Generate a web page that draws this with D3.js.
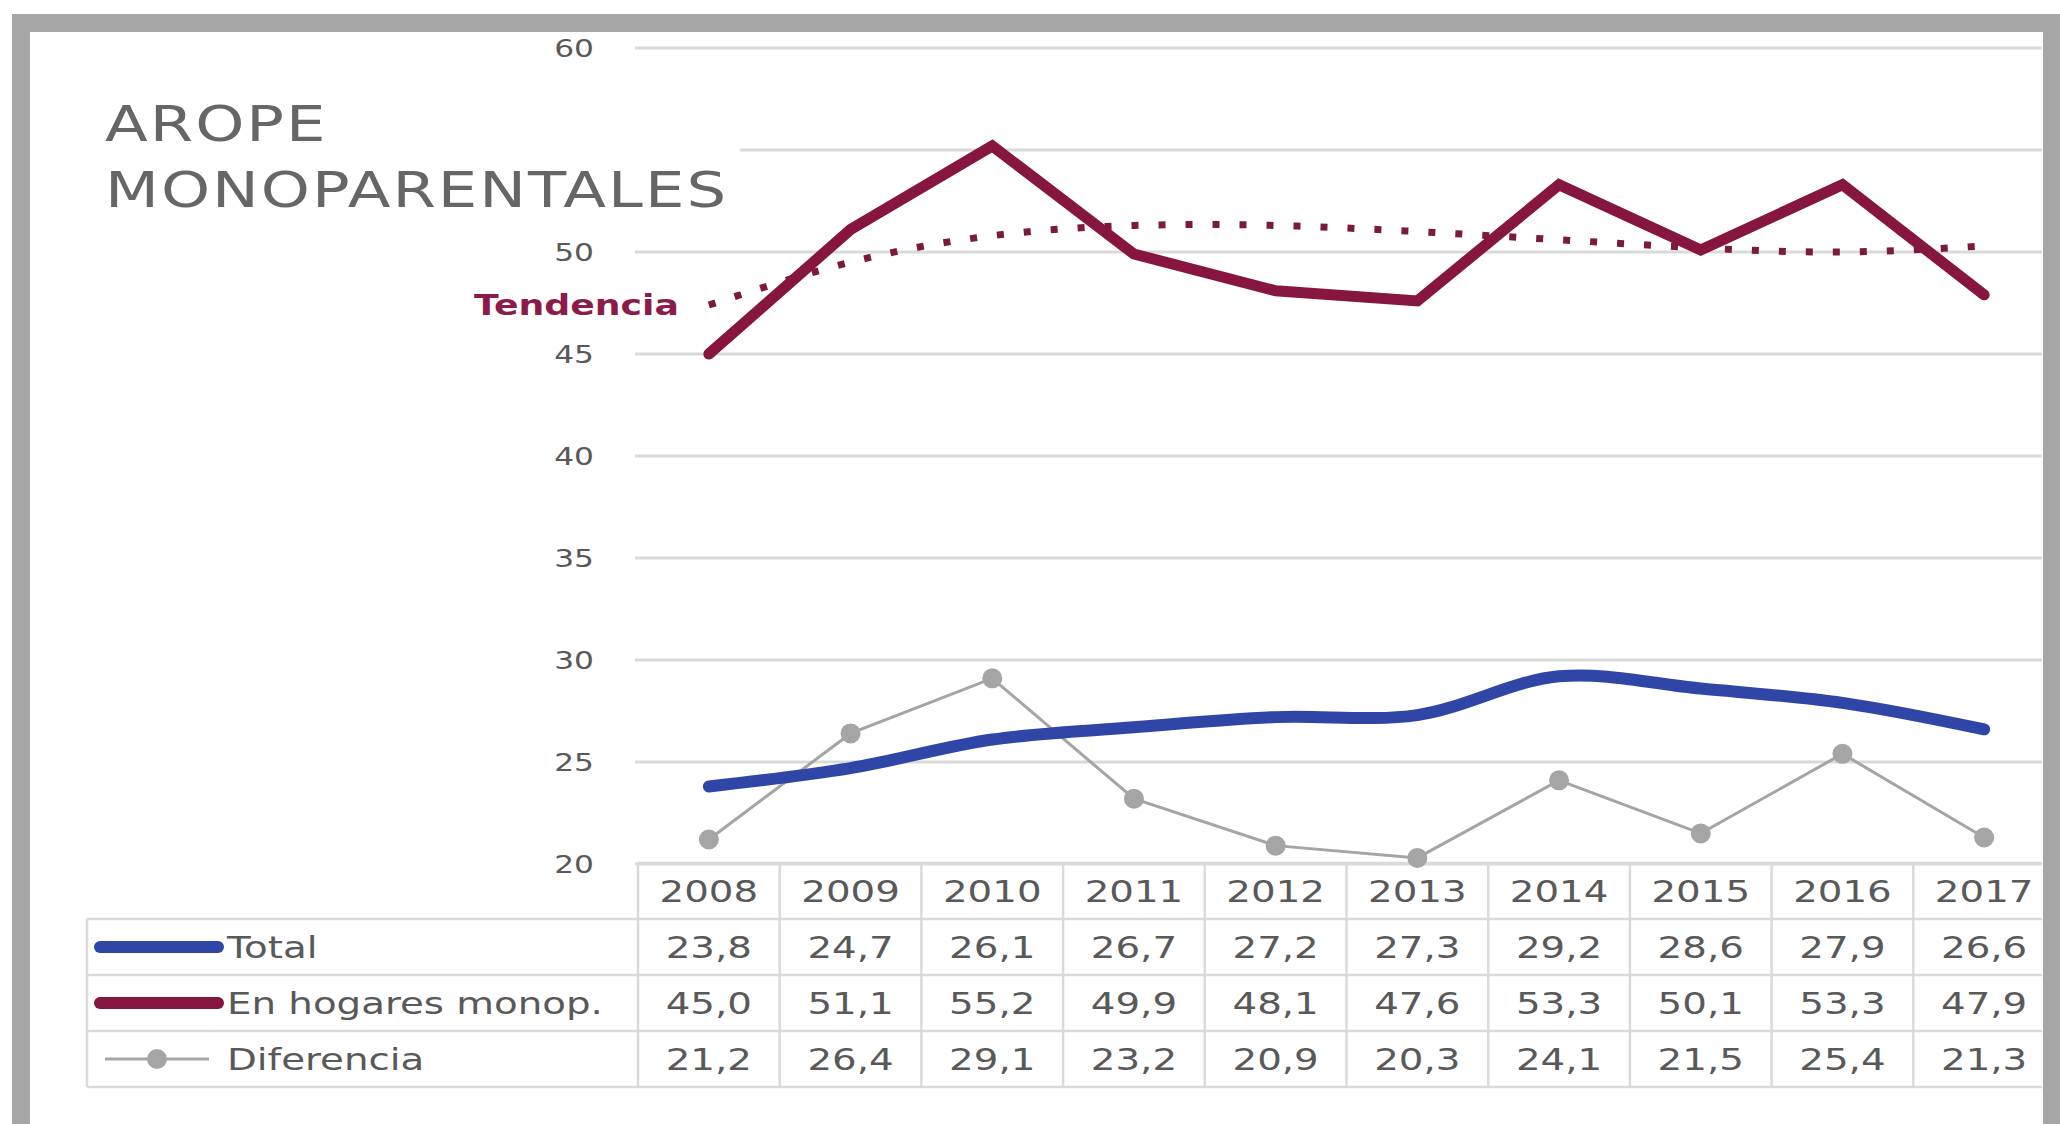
<html>
<head>
<meta charset="utf-8">
<script src="https://d3js.org/d3.v7.min.js"></script>
<style>
  body { margin: 0; background: #fff; }
  text { font-family: "DejaVu Sans", sans-serif; }
</style>
</head>
<body>
<svg id="chart" width="2060" height="1124"></svg>
<script>
// data
const years = [2008, 2009, 2010, 2011, 2012, 2013, 2014, 2015, 2016, 2017];
const total = [23.8, 24.7, 26.1, 26.7, 27.2, 27.3, 29.2, 28.6, 27.9, 26.6];
const monop = [45.0, 51.1, 55.2, 49.9, 48.1, 47.6, 53.3, 50.1, 53.3, 47.9];
const diferencia = [21.2, 26.4, 29.1, 23.2, 20.9, 20.3, 24.1, 21.5, 25.4, 21.3];
const tendencia = [47.4, 49.5, 50.8, 51.3, 51.3, 51.0, 50.6, 50.2, 50.0, 50.3];
const gridTicks = [20, 25, 30, 35, 40, 45, 50, 55, 60];
const yLabels = [20, 25, 30, 35, 40, 45, 50, 60];   // 55 is hidden under the title
const rowLabels = ["Total", "En hogares monop.", "Diferencia"];
const titleLines = ["AROPE", "MONOPARENTALES"];

const blue = "#2f46a6", wine = "#86153f", grey = "#a5a5a5", gridCol = "#dadada", ink = "#595959";
const sx = 1.25; // the source picture is stretched sideways, so is its text

const svg = d3.select("#chart");

const x = d3.scaleBand().domain(years).range([638, 2055]).padding(0);
const y = d3.scaleLinear().domain([20, 60]).range([864, 48]);
const rows = d3.scaleBand().domain(["head"].concat(rowLabels)).range([863, 1087]);
const cx = d => x(d) + x.bandwidth() / 2;
const fmt = v => d3.format(".1f")(v).replace(".", ",");

// text helper: wide text, x given in page pixels
function wide(sel, xf) {
  return sel.attr("transform", `scale(${sx},1)`)
    .attr("x", (d, i) => (typeof xf === "function" ? xf(d, i) : xf) / sx);
}

// gridlines
svg.append("g")
  .selectAll("line").data(gridTicks).join("line")
  .attr("x1", 635).attr("x2", 2042)
  .attr("y1", d => y(d)).attr("y2", d => y(d))
  .attr("stroke", gridCol).attr("stroke-width", 3);

// y axis labels
svg.append("g")
  .selectAll("text").data(yLabels).join("text")
  .call(wide, 594)
  .attr("y", d => y(d))
  .attr("dy", "0.35em").attr("text-anchor", "end")
  .attr("font-size", 25).attr("fill", ink)
  .text(d => d);

// title box, white behind it like the original
svg.append("rect").attr("x", 90).attr("y", 80).attr("width", 650).attr("height", 145).attr("fill", "#fff");
svg.append("g")
  .selectAll("text").data(titleLines).join("text")
  .call(wide, 105)
  .attr("y", (d, i) => 141 + i * 66)
  .attr("font-size", 50).attr("letter-spacing", 1.6)
  .attr("fill", "#666")
  .text(d => d);

// data table
const tbl = svg.append("g").attr("stroke", gridCol).attr("stroke-width", 2.5);
tbl.append("line").attr("x1", 638).attr("x2", 2042).attr("y1", rows("head")).attr("y2", rows("head"));
rowLabels.forEach(r => {
  tbl.append("line").attr("x1", 87).attr("x2", 2042).attr("y1", rows(r)).attr("y2", rows(r));
});
tbl.append("line").attr("x1", 87).attr("x2", 2042).attr("y1", 1087).attr("y2", 1087);
tbl.append("line").attr("x1", 87).attr("x2", 87).attr("y1", rows(rowLabels[0])).attr("y2", 1087);
tbl.selectAll("line.v").data(years).join("line").attr("class", "v")
  .attr("x1", d => x(d)).attr("x2", d => x(d))
  .attr("y1", rows("head")).attr("y2", 1087);

const cellFont = 31;
svg.append("g").selectAll("text").data(years).join("text")
  .call(wide, d => cx(d))
  .attr("y", rows("head") + rows.bandwidth() / 2)
  .attr("dy", "0.36em").attr("text-anchor", "middle")
  .attr("font-size", cellFont).attr("fill", ink)
  .text(d => d);

const tableSeries = [total, monop, diferencia];
tableSeries.forEach((vals, i) => {
  svg.append("g").selectAll("text").data(vals).join("text")
    .call(wide, (d, j) => cx(years[j]))
    .attr("y", rows(rowLabels[i]) + rows.bandwidth() / 2)
    .attr("dy", "0.36em").attr("text-anchor", "middle")
    .attr("font-size", cellFont).attr("fill", ink)
    .text(d => fmt(d));
});

// row labels + legend keys
svg.append("g").selectAll("text").data(rowLabels).join("text")
  .call(wide, 227)
  .attr("y", d => rows(d) + rows.bandwidth() / 2)
  .attr("dy", "0.36em")
  .attr("font-size", cellFont).attr("fill", ink)
  .text(d => d);

const keyY = d => rows(d) + rows.bandwidth() / 2;
svg.append("line").attr("x1", 100).attr("x2", 218).attr("y1", keyY("Total")).attr("y2", keyY("Total"))
  .attr("stroke", blue).attr("stroke-width", 12).attr("stroke-linecap", "round");
svg.append("line").attr("x1", 100).attr("x2", 218).attr("y1", keyY("En hogares monop.")).attr("y2", keyY("En hogares monop."))
  .attr("stroke", wine).attr("stroke-width", 12).attr("stroke-linecap", "round");
svg.append("line").attr("x1", 105).attr("x2", 209).attr("y1", keyY("Diferencia")).attr("y2", keyY("Diferencia"))
  .attr("stroke", grey).attr("stroke-width", 3);
svg.append("circle").attr("cx", 157).attr("cy", keyY("Diferencia")).attr("r", 10).attr("fill", grey);

// series
const px = (d, i) => cx(years[i]);

svg.append("path").datum(diferencia)
  .attr("d", d3.line().x(px).y(d => y(d))).attr("fill", "none")
  .attr("stroke", grey).attr("stroke-width", 3);
svg.append("g").selectAll("circle").data(diferencia).join("circle")
  .attr("cx", px).attr("cy", d => y(d))
  .attr("r", 10).attr("fill", grey);

svg.append("path").datum(total)
  .attr("d", d3.line().x(px).y(d => y(d)).curve(d3.curveCatmullRom))
  .attr("fill", "none")
  .attr("stroke", blue).attr("stroke-width", 12).attr("stroke-linecap", "round");

svg.append("path").datum(tendencia)
  .attr("d", d3.line().x(px).y(d => y(d)).curve(d3.curveNatural))
  .attr("fill", "none").attr("stroke", "#7a1a40").attr("stroke-width", 7)
  .attr("stroke-dasharray", "7 20");

svg.append("path").datum(monop)
  .attr("d", d3.line().x(px).y(d => y(d)))
  .attr("fill", "none").attr("stroke", wine).attr("stroke-width", 11)
  .attr("stroke-linejoin", "miter").attr("stroke-linecap", "round");

// trend label
svg.append("text")
  .call(wide, 474)
  .attr("y", y(tendencia[0])).attr("dy", "0.36em")
  .attr("font-size", 29).attr("font-weight", "bold")
  .attr("fill", "#8c1a4a")
  .text("Tendencia");

// grey picture frame
svg.append("rect")
  .attr("x", 21).attr("y", 23).attr("width", 2031).attr("height", 1300)
  .attr("fill", "none").attr("stroke", "#a6a6a6").attr("stroke-width", 18);
</script>
</body>
</html>
